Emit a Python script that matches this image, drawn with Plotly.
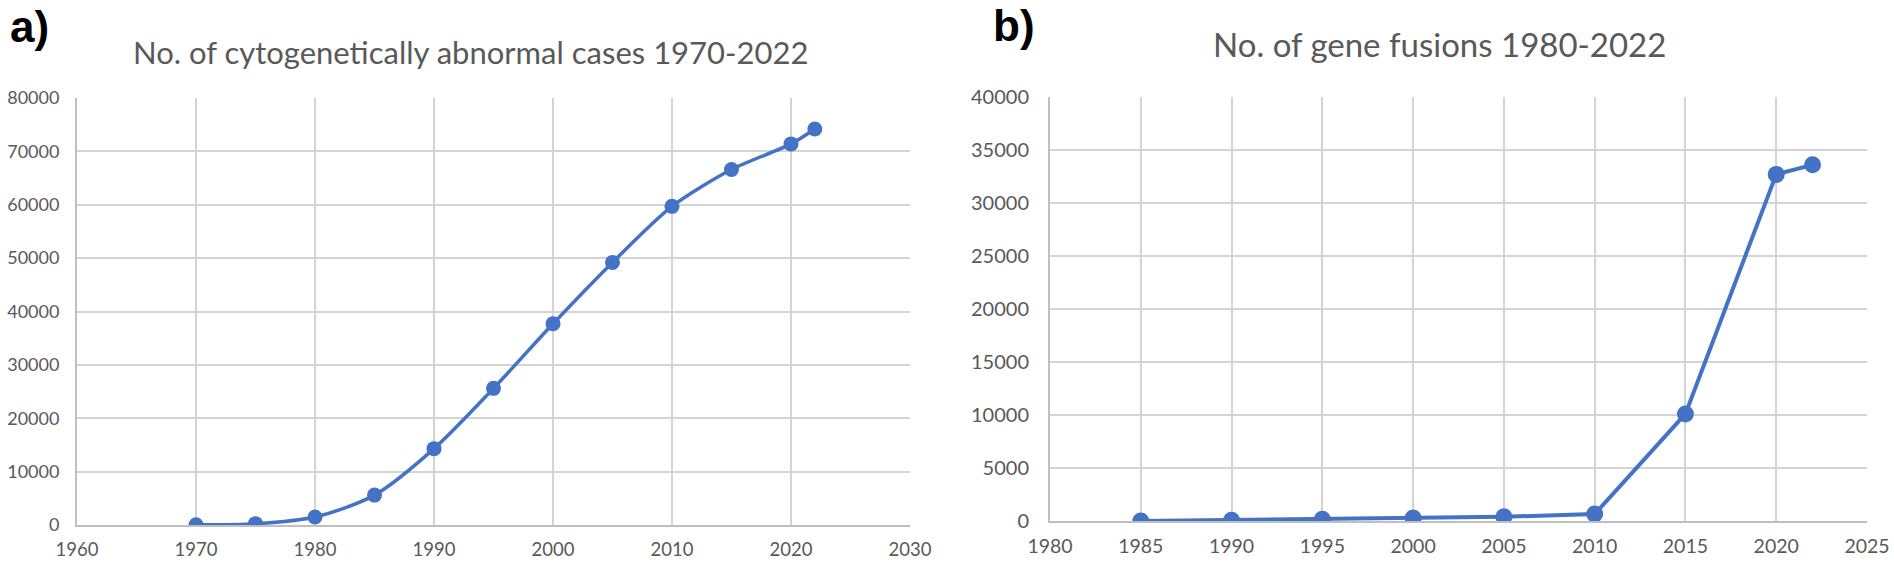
import plotly.graph_objects as go

# a) cytogenetically abnormal cases
years_a = [1970, 1975, 1980, 1985, 1990, 1995, 2000, 2005, 2010, 2015, 2020, 2022]
cases_a = [50, 250, 1500, 5600, 14300, 25600, 37700, 49200, 59700, 66600, 71400, 74200]

# b) gene fusions
years_b = [1985, 1990, 1995, 2000, 2005, 2010, 2015, 2020, 2022]
fusions_b = [0, 80, 170, 280, 400, 650, 10100, 32700, 33600]

title_a = "No. of cytogenetically abnormal cases 1970-2022"
title_b = "No. of gene fusions 1980-2022"

BLUE = "#4472C4"
GRID = "#d4d4d4"
AXIS = "#bfbfbf"
TXT = "#595959"
FONT = "Lato"

fig = go.Figure()

fig.add_trace(go.Scatter(
    x=years_a, y=cases_a, mode="lines+markers",
    line=dict(color=BLUE, width=3.5, shape="spline", smoothing=0.8),
    marker=dict(color=BLUE, size=15),
    xaxis="x", yaxis="y", showlegend=False,
))
fig.add_trace(go.Scatter(
    x=years_b, y=fusions_b, mode="lines+markers",
    line=dict(color=BLUE, width=4),
    marker=dict(color=BLUE, size=17),
    xaxis="x2", yaxis="y2", showlegend=False,
))

def xax(domain, rng, dtick, anchor, size):
    return dict(domain=domain, range=rng, dtick=dtick, tick0=rng[0], anchor=anchor,
                automargin=False,
                showgrid=True, gridcolor=GRID, gridwidth=1.5,
                showline=True, linecolor=AXIS, linewidth=2, zeroline=False,
                ticks="", ticklabelstandoff=7, tickformat="d",
                tickfont=dict(family=FONT, size=size, color=TXT))

def yax(domain, rng, dtick, anchor, size, standoff):
    return dict(domain=domain, range=rng, dtick=dtick, tick0=0, anchor=anchor,
                automargin=False,
                showgrid=True, gridcolor=GRID, gridwidth=1.5,
                showline=True, linecolor=AXIS, linewidth=2, zeroline=False,
                ticks="", ticklabelstandoff=standoff, tickformat="d",
                tickfont=dict(family=FONT, size=size, color=TXT))

W, H = 1894, 579
fig.update_layout(
    width=W, height=H,
    margin=dict(l=0, r=0, t=0, b=0, autoexpand=False),
    paper_bgcolor="white", plot_bgcolor="white",
    xaxis=xax([77 / W, 910 / W], [1960, 2030], 10, "y", 18.5),
    yaxis=yax([1 - 525 / H, 1 - 98 / H], [0, 80000], 10000, "x", 18, 12),
    xaxis2=xax([1050 / W, 1867 / W], [1980, 2025], 5, "y2", 19.5),
    yaxis2=yax([1 - 521 / H, 1 - 97 / H], [0, 40000], 5000, "x2", 20, 15),
    annotations=[
        dict(text=title_a, x=471 / W, y=1 - 52 / H, xref="paper", yref="paper",
             showarrow=False, xanchor="center", yanchor="middle",
             font=dict(family=FONT, size=31, color=TXT)),
        dict(text=title_b, x=1439 / W, y=1 - 44 / H, xref="paper", yref="paper",
             showarrow=False, xanchor="center", yanchor="middle",
             font=dict(family=FONT, size=33, color=TXT)),
        dict(text="<b>a)</b>", x=8 / W, y=1 - 27 / H, xref="paper", yref="paper",
             showarrow=False, xanchor="left", yanchor="middle",
             font=dict(family="Liberation Sans Narrow, Liberation Sans", size=44, color="black")),
        dict(text="<b>b)</b>", x=991 / W, y=1 - 25 / H, xref="paper", yref="paper",
             showarrow=False, xanchor="left", yanchor="middle",
             font=dict(family="Liberation Sans Narrow, Liberation Sans", size=44, color="black")),
    ],
)

# drop the default 8px body margin so the figure sits at the page corner
fig.write_html("out.html", config={"displayModeBar": False},
               post_script="document.body.style.margin='0';")
